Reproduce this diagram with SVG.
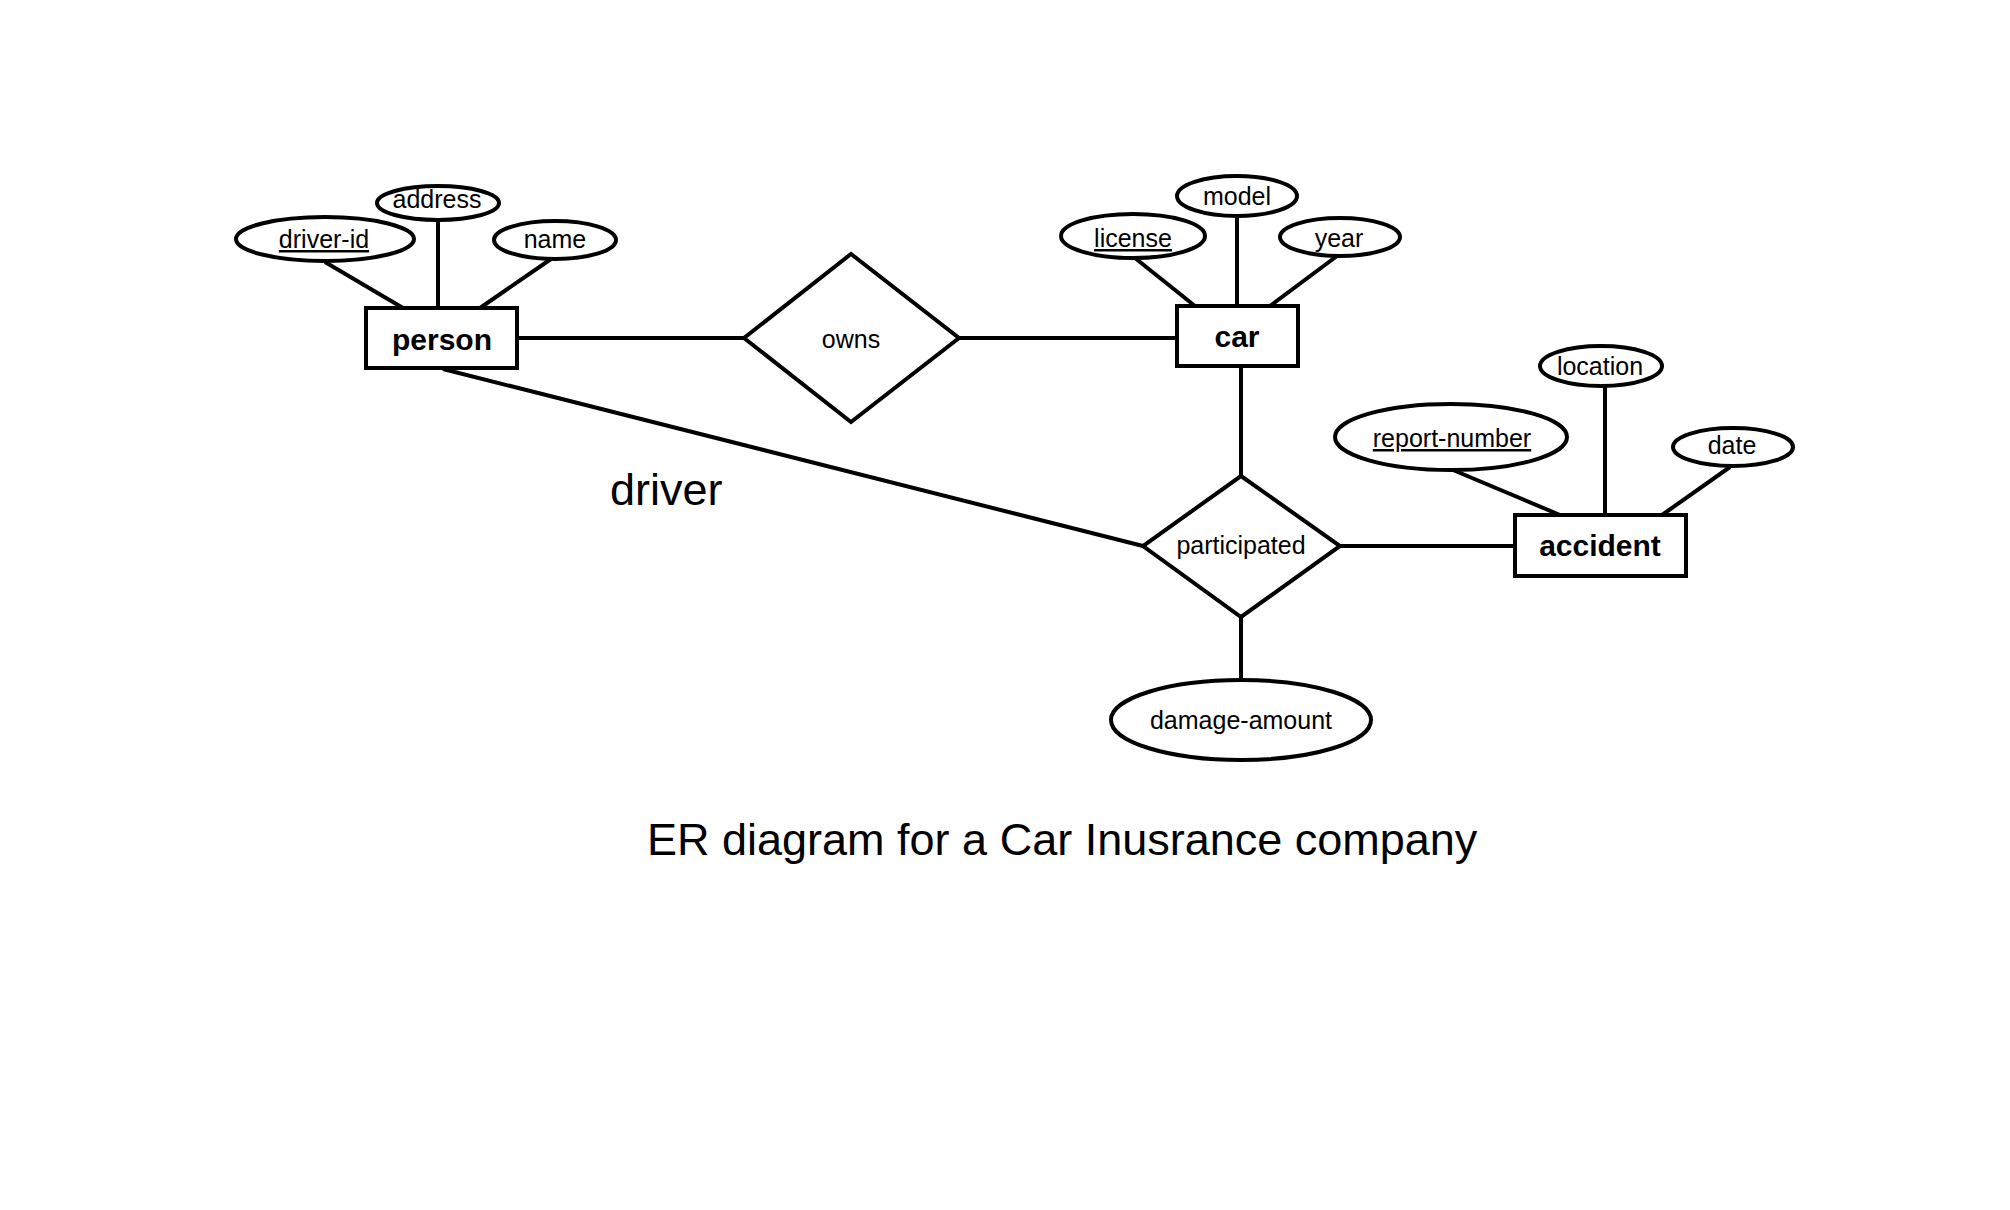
<svg xmlns="http://www.w3.org/2000/svg" width="2010" height="1210" viewBox="0 0 2010 1210">
<style>
.sh{fill:#fff;stroke:#000;stroke-width:4}
.ln{stroke:#000;stroke-width:4;fill:none}
.ent{font-family:"Liberation Sans",Arial,sans-serif;font-weight:bold;font-size:30px;text-anchor:middle;fill:#000}
.att{font-family:"Liberation Sans",Arial,sans-serif;font-size:25px;text-anchor:middle;fill:#000}
.key{text-decoration:underline}
.big{font-family:"Liberation Sans",Arial,sans-serif;font-size:45px;fill:#000}
</style>
<rect width="2010" height="1210" fill="#fff"/>
<g id="connectors">
<line class="ln" x1="325" y1="262" x2="403" y2="308"/>
<line class="ln" x1="438" y1="220" x2="438" y2="308"/>
<line class="ln" x1="551" y1="259" x2="480" y2="308"/>
<line class="ln" x1="517" y1="338" x2="744" y2="338"/>
<line class="ln" x1="959" y1="338" x2="1177" y2="338"/>
<line class="ln" x1="1135" y1="258" x2="1195" y2="306"/>
<line class="ln" x1="1237" y1="217" x2="1237" y2="306"/>
<line class="ln" x1="1337" y1="256" x2="1270" y2="306"/>
<line class="ln" x1="1241" y1="367" x2="1241" y2="476"/>
<line class="ln" x1="443" y1="369" x2="1143" y2="546"/>
<line class="ln" x1="1340" y1="546" x2="1515" y2="546"/>
<line class="ln" x1="1241" y1="617" x2="1241" y2="680"/>
<line class="ln" x1="1453" y1="470" x2="1560" y2="515"/>
<line class="ln" x1="1605" y1="387" x2="1605" y2="515"/>
<line class="ln" x1="1730" y1="467" x2="1662" y2="515"/>
</g>
<g id="person">
<rect class="sh" x="366" y="308" width="151" height="60"/>
<text class="ent" x="442" y="350">person</text>
</g>
<g id="driver-id">
<ellipse class="sh" cx="325" cy="239" rx="89" ry="22"/>
<text class="att key" x="324" y="248">driver-id</text>
</g>
<g id="address">
<ellipse class="sh" cx="438" cy="203" rx="61" ry="17"/>
<text class="att" x="437" y="208">address</text>
</g>
<g id="name">
<ellipse class="sh" cx="555" cy="240" rx="61" ry="19"/>
<text class="att" x="555" y="248">name</text>
</g>
<g id="owns">
<polygon class="sh" points="851,254 959,338 851,422 744,338"/>
<text class="att" x="851" y="348">owns</text>
</g>
<g id="car">
<rect class="sh" x="1177" y="306" width="121" height="60"/>
<text class="ent" x="1237" y="347">car</text>
</g>
<g id="license">
<ellipse class="sh" cx="1133" cy="236" rx="72" ry="22"/>
<text class="att key" x="1133" y="247">license</text>
</g>
<g id="model">
<ellipse class="sh" cx="1237" cy="196" rx="60" ry="20"/>
<text class="att" x="1237" y="205">model</text>
</g>
<g id="year">
<ellipse class="sh" cx="1340" cy="237" rx="60" ry="19"/>
<text class="att" x="1339" y="247">year</text>
</g>
<g id="participated">
<polygon class="sh" points="1241,476 1340,546 1241,617 1143,546"/>
<text class="att" x="1241" y="554">participated</text>
</g>
<g id="damage-amount">
<ellipse class="sh" cx="1241" cy="720" rx="130" ry="40"/>
<text class="att" x="1241" y="729">damage-amount</text>
</g>
<g id="accident">
<rect class="sh" x="1515" y="515" width="171" height="61"/>
<text class="ent" x="1600" y="556">accident</text>
</g>
<g id="report-number">
<ellipse class="sh" cx="1451" cy="437" rx="116" ry="33"/>
<text class="att key" x="1452" y="447">report-number</text>
</g>
<g id="location">
<ellipse class="sh" cx="1601" cy="366" rx="61" ry="20"/>
<text class="att" x="1600" y="375">location</text>
</g>
<g id="date">
<ellipse class="sh" cx="1733" cy="447" rx="60" ry="19"/>
<text class="att" x="1732" y="454">date</text>
</g>
<text class="big" x="610" y="505">driver</text>
<text class="big" x="647" y="855">ER diagram for a Car Inusrance company</text>
</svg>
